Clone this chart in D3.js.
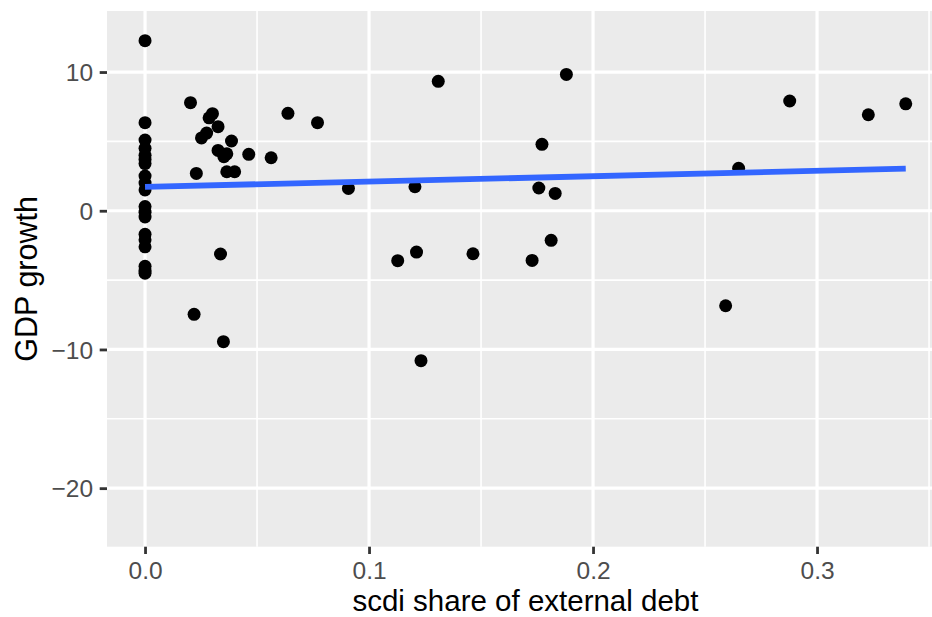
<!DOCTYPE html>
<html>
<head>
<meta charset="utf-8">
<script src="https://cdn.jsdelivr.net/npm/d3@7"></script>
<style>
    body { margin: 0; background: #ffffff; }
    text { font-family: "Liberation Sans", Arial, sans-serif; }
</style>
</head>
<body>
<div id="chart"></div>
<script>
// scdi share of external debt (x) and GDP growth (y)
const scdiShare = [
    0, 0, 0, 0, 0, 0, 0, 0, 0, 0,
    0, 0, 0, 0, 0, 0, 0, 0, 0,
    0.0203, 0.0301, 0.0286, 0.0326, 0.0275, 0.0252, 0.0386, 0.0326, 0.0352, 0.0365,
    0.0463, 0.0563, 0.0229, 0.0365, 0.0400, 0.0638, 0.0770, 0.0219, 0.0350, 0.0337,
    0.1309, 0.1881, 0.1772, 0.0908, 0.1205, 0.1758, 0.1831, 0.1813, 0.1128, 0.1212,
    0.1464, 0.1728, 0.1232,
    0.2878, 0.3229, 0.3396, 0.2650, 0.2592
];
const gdpGrowth = [
    12.26, 6.35, 5.1, 4.5, 4.0, 3.7, 3.4, 2.5, 2.0, 1.5,
    0.3, -0.1, -0.45, -1.7, -2.1, -2.6, -4.0, -4.3, -4.5,
    7.79, 7.0, 6.7, 6.06, 5.6, 5.25, 5.03, 4.35, 3.9, 4.1,
    4.07, 3.82, 2.69, 2.81, 2.81, 7.02, 6.35, -7.47, -9.44, -3.12,
    9.33, 9.83, 4.79, 1.61, 1.73, 1.64, 1.25, -2.13, -3.6, -2.98,
    -3.1, -3.58, -10.81,
    7.91, 6.92, 7.71, 3.06, -6.85
];
const xTicks = [0, 0.1, 0.2, 0.3];
const xMinorTicks = [0.05, 0.15, 0.25, 0.35];
const yTicks = [-20, -10, 0, 10];
const yMinorTicks = [-15, -5, 5];
const xLimits = [-0.01698, 0.35664];
const yLimits = [-24.22, 14.4];

const width = 932, height = 617;
const panel = { left: 107, top: 11, bottom: 546.7 };
const pxPerUnit = 2240;

const x = d3.scaleLinear().domain(xLimits)
    .range([panel.left, panel.left + (xLimits[1] - xLimits[0]) * pxPerUnit]);
const y = d3.scaleLinear().domain(yLimits).range([panel.bottom, panel.top]);

const points = scdiShare.map((v, i) => ({ x: v, y: gdpGrowth[i] }));

// least squares fit, as geom_smooth(method = "lm", se = FALSE)
const mx = d3.mean(points, d => d.x), my = d3.mean(points, d => d.y);
const slope = d3.sum(points, d => (d.x - mx) * (d.y - my)) / d3.sum(points, d => (d.x - mx) * (d.x - mx));
const intercept = my - slope * mx;
const fitX = d3.extent(points, d => d.x);

const svg = d3.select("#chart").append("svg").attr("width", width).attr("height", height);

svg.append("rect")
    .attr("x", x.range()[0]).attr("y", panel.top)
    .attr("width", x.range()[1] - x.range()[0]).attr("height", panel.bottom - panel.top)
    .attr("fill", "#EBEBEB");

const grid = svg.append("g");
grid.selectAll(".xminor").data(xMinorTicks).join("line")
    .attr("x1", d => x(d)).attr("x2", d => x(d))
    .attr("y1", panel.top).attr("y2", panel.bottom)
    .attr("stroke", "#ffffff").attr("stroke-width", 1.6);
grid.selectAll(".yminor").data(yMinorTicks).join("line")
    .attr("x1", x.range()[0]).attr("x2", x.range()[1])
    .attr("y1", d => y(d)).attr("y2", d => y(d))
    .attr("stroke", "#ffffff").attr("stroke-width", 1.6);
grid.selectAll(".xmajor").data(xTicks).join("line")
    .attr("x1", d => x(d)).attr("x2", d => x(d))
    .attr("y1", panel.top).attr("y2", panel.bottom)
    .attr("stroke", "#ffffff").attr("stroke-width", 3.2);
grid.selectAll(".ymajor").data(yTicks).join("line")
    .attr("x1", x.range()[0]).attr("x2", x.range()[1])
    .attr("y1", d => y(d)).attr("y2", d => y(d))
    .attr("stroke", "#ffffff").attr("stroke-width", 3.2);

svg.append("g").selectAll("circle").data(points).join("circle")
    .attr("cx", d => x(d.x)).attr("cy", d => y(d.y))
    .attr("r", 6.5).attr("fill", "#000000");

svg.append("line")
    .attr("x1", x(fitX[0])).attr("y1", y(intercept + slope * fitX[0]))
    .attr("x2", x(fitX[1])).attr("y2", y(intercept + slope * fitX[1]))
    .attr("stroke", "#3366FF").attr("stroke-width", 5.8);

const xAxis = svg.append("g")
    .attr("transform", "translate(0," + panel.bottom + ")")
    .call(d3.axisBottom(x).tickValues(xTicks).tickFormat(d3.format(".1f")).tickSize(7.3).tickPadding(7.5));
const yAxis = svg.append("g")
    .attr("transform", "translate(" + panel.left + ",0)")
    .call(d3.axisLeft(y).tickValues(yTicks).tickFormat(d => d < 0 ? "\u2212" + Math.abs(d) : d).tickSize(7.3).tickPadding(6.6));
[xAxis, yAxis].forEach(a => {
    a.select(".domain").remove();
    a.selectAll(".tick line").attr("stroke", "#333333").attr("stroke-width", 2.8);
    a.selectAll(".tick text").attr("fill", "#4D4D4D").style("font-size", "24.5px");
});
yAxis.selectAll(".tick text").attr("dy", "0.36em");

svg.append("text")
    .attr("x", panel.left + (x.range()[1] - x.range()[0]) / 2).attr("y", 610.5)
    .attr("text-anchor", "middle").style("font-size", "29.5px").attr("fill", "#000000")
    .text("scdi share of external debt");

svg.append("text")
    .attr("transform", "translate(37," + (panel.top + panel.bottom) / 2 + ") rotate(-90)")
    .attr("text-anchor", "middle").style("font-size", "30.5px").attr("fill", "#000000")
    .text("GDP growth");
</script>
</body>
</html>
